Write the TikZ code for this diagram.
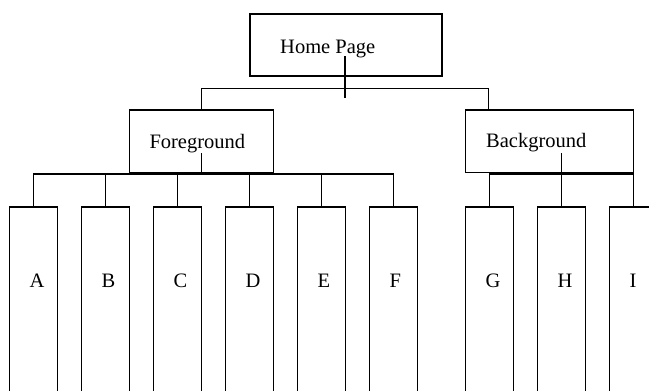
\documentclass[tikz,border=0pt]{standalone}
\usepackage{fontspec}
\setmainfont{Liberation Serif}
\begin{document}
\begin{tikzpicture}[x=1pt,y=-1pt,
  box/.style={draw=black,line width=1.5pt,rectangle,inner sep=0pt,anchor=north west},
  txt/.style={anchor=base west,inner sep=0pt,font=\fontsize{20.5}{24}\selectfont},
  conn/.style={draw=black,line width=1.5pt}]
\useasboundingbox (0,0) rectangle (649,391);
\clip (0,0) rectangle (649,391);
% top
\node[box,minimum width=192pt,minimum height=62pt] (hp) at (249,13) {};
\node[txt] (hpt) at (280,53.5) {Home Page};
\node[box,minimum width=144pt,minimum height=62.5pt] (fg) at (128.7,109.3) {};
\node[txt] (fgt) at (149.3,148) {Foreground};
\node[box,minimum width=168pt,minimum height=62.5pt] (bg) at (464.7,109.3) {};
\node[txt] (bgt) at (486,147.5) {Background};
% leaves
\foreach \n/\x in {A/8.7,B/80.7,C/152.7,D/224.7,E/296.7,F/368.7,G/464.7,H/536.7,I/608.7}{
  \node[box,minimum width=48pt,minimum height=220pt] (\n) at (\x,206) {};
  \node[txt] (l\n) at ([xshift=20.7pt,yshift=-81pt]\n.north west) {\n};
}
% home connectors
\coordinate (hpa) at (345,56);
\coordinate (hpb) at (345,98);
\draw[conn] (hpa) -- (hpb);
\draw[conn] (fg.north) -- (fg.north |- 0,88.7) -- (488.7,88.7) -- (488.7,109.3);
% foreground
\coordinate (fgs) at (fg.north |- 0,153);
\draw[conn] (fgs) -- (fg.south);
\draw[conn] (A.north) -- (A.north |- 0,174) -- (F.north |- 0,174) -- (F.north);
\foreach \n in {B,C,D,E}{\draw[conn] (\n.north |- 0,174) -- (\n.north);}
% background
\coordinate (bgs) at (H.north |- 0,153);
\draw[conn] (bgs) -- (H.north |- 0,172);
\draw[conn] (G.north) -- (G.north |- 0,174) -- (I.north |- 0,174) -- (I.north);
\draw[conn] (H.north |- 0,174) -- (H.north);
\end{tikzpicture}
\end{document}
